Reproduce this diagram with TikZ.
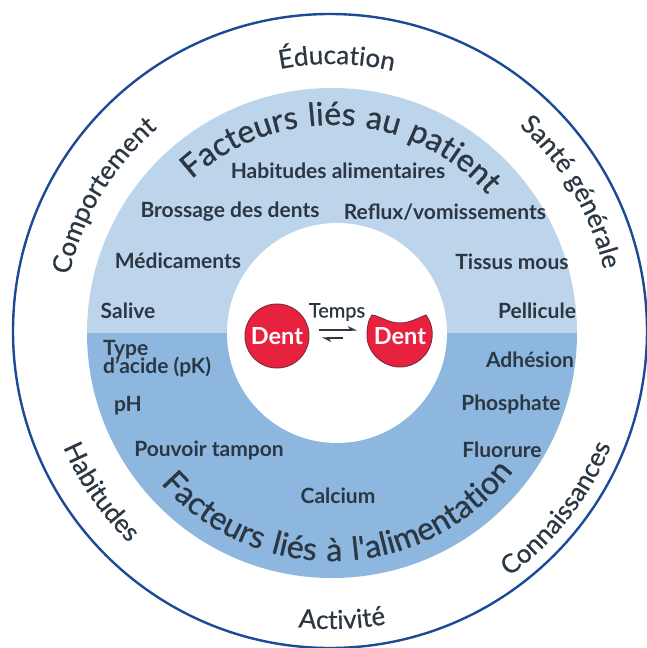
\documentclass[tikz,border=0pt]{standalone}
\usepackage{fontspec}
\setmainfont{Lato}
\usetikzlibrary{decorations.text,arrows.meta}
\definecolor{ink}{HTML}{2B3742}
\definecolor{navy}{HTML}{1B4A96}
\definecolor{upper}{HTML}{BDD5EB}
\definecolor{lower}{HTML}{8DB7DF}
\definecolor{toothred}{HTML}{E8213F}
\definecolor{toothline}{HTML}{7A2A38}
\newfontfamily\outerfont{Lato}[LetterSpace=1,FakeBold=0.5]
\newfontfamily\titlefont{Lato}[LetterSpace=5.5,FakeBold=0.8]
\newfontfamily\titlefontb{Lato}[LetterSpace=7.5,FakeBold=0.8]
\newfontfamily\tempsfont{Lato}[FakeBold=0.6]
\newcommand{\ofont}{\outerfont\fontsize{26}{28}\selectfont\color{ink}}
\newcommand{\tfont}{\titlefont\fontsize{32}{35}\selectfont\color{ink}}
\newcommand{\tbfont}{\titlefontb\fontsize{32}{35}\selectfont\color{ink}}
\newcommand{\curved}[5]{% font, radius, start, end, text
  \path[decorate,decoration={text along path,text align=center,text={|#1|#5}}]
    (c) ++(#3:#2pt) arc[start angle=#3,end angle=#4,radius=#2pt];}
\tikzset{
  lab/.style={font=\bfseries\fontsize{21}{23}\selectfont,text=ink,inner sep=0pt},
  tooth/.style={fill=toothred,draw=toothline,line width=0.9pt},
  dent/.style={font=\bfseries\fontsize{23.5}{25}\selectfont,text=white,inner sep=0pt},
  swap/.style={line width=1.2pt,draw=ink,-{Stealth[harpoon,length=8pt,width=8pt]}}
}
\begin{document}
\begin{tikzpicture}[x=1pt,y=1pt]
\useasboundingbox (0,-648) rectangle (646,0);
\fill[white] (0,-648) rectangle (646,0);
\coordinate (c) at (332,-333);
\coordinate (o) at (330,-331);
\draw[navy,line width=2.4pt] (o) circle[radius=317];
\fill[upper] (c) ++(0:245) arc[start angle=0,end angle=180,radius=245] -- cycle;
\fill[lower] (c) ++(180:245) arc[start angle=180,end angle=360,radius=245] -- cycle;
\fill[white] (337,-333) circle[radius=110];
% outer ring
\curved{\ofont}{269}{114}{64}{Éducation}
\curved{\ofont}{269}{175}{123}{Comportement}
\curved{\ofont}{279}{56}{5}{Santé générale}
\curved{\ofont}{292}{194}{235}{Habitudes}
\curved{\ofont}{301}{295}{349}{Connaissances}
\curved{\ofont}{296}{255}{289}{Activité}
% titles
\curved{\tfont}{208}{150}{24}{Facteurs liés au patient}
\curved{\tbfont}{228}{199}{345}{Facteurs liés à l'alimentation}
% labels
\node[lab] (hab) at (338,-171) {Habitudes alimentaires};
\node[lab] (bro) at (230,-212) {Brossage des dents};
\node[lab] (ref) at (445,-212) {Reflux/vomissements};
\node[lab] (med) at (178,-261) {Médicaments};
\node[lab] (tis) at (512,-262) {Tissus mous};
\node[lab] (sal) at (128,-311) {Salive};
\node[lab] (pel) at (537,-311) {Pellicule};
\node[lab,anchor=west] (typ) at (103,-350) {Type};
\node[lab,anchor=west] (aci) at (103,-367) {d'acide (pK)};
\node[lab] (ph) at (128,-406) {pH};
\node[lab] (pou) at (209,-450) {Pouvoir tampon};
\node[lab] (cal) at (338,-496) {Calcium};
\node[lab] (flu) at (502,-450) {Fluorure};
\node[lab] (pho) at (511,-404) {Phosphate};
\node[lab] (adh) at (530,-360) {Adhésion};
% teeth
\draw[tooth] (277,-336) circle[radius=32];
\draw[tooth] (372,-315) .. controls (380,-316) and (388,-323) .. (400,-323)
  .. controls (410,-323) and (418,-318) .. (426,-315)
  .. controls (431,-322) and (433,-330) .. (432,-338)
  .. controls (430,-355) and (416,-367) .. (400,-367)
  .. controls (383,-367) and (368,-353) .. (367,-337)
  .. controls (367,-328) and (368,-320) .. (372,-315) -- cycle;
\node[dent] (d1) at (277,-336) {Dent};
\node[dent] (d2) at (400,-336) {Dent};
\node[lab,font=\tempsfont\fontsize{20}{22}\selectfont] (tem) at (337,-312) {Temps};
\coordinate (a1) at (319,-330);
\coordinate (a2) at (357,-330);
\coordinate (b1) at (343,-338);
\coordinate (b2) at (322,-338);
\draw[swap] (a1) -- (a2);
\draw[swap] (b1) -- (b2);
\end{tikzpicture}
\end{document}
